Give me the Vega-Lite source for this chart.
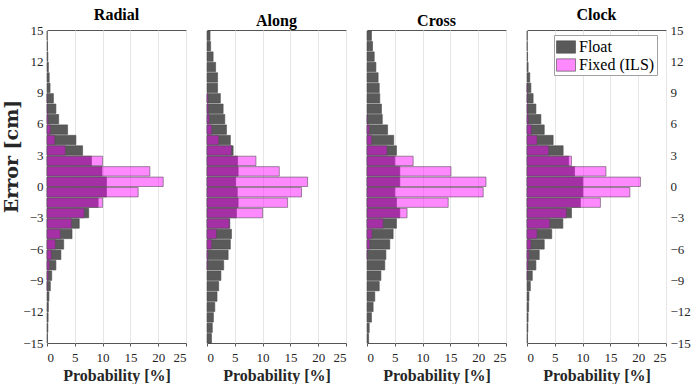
{
  "$schema": "https://vega.github.io/schema/vega-lite/v6.json",
  "padding": {"left": 2, "top": 6, "right": 0, "bottom": 0},
  "bounds": "flush",
  "spacing": 21,
  "datasets": {
    "hist": [
      {"p":"Radial","s":"Float","lo":14,"hi":15,"v":0.05},
      {"p":"Radial","s":"Float","lo":13,"hi":14,"v":0.1},
      {"p":"Radial","s":"Float","lo":12,"hi":13,"v":0.15},
      {"p":"Radial","s":"Float","lo":11,"hi":12,"v":0.25},
      {"p":"Radial","s":"Float","lo":10,"hi":11,"v":0.4},
      {"p":"Radial","s":"Float","lo":9,"hi":10,"v":0.55},
      {"p":"Radial","s":"Float","lo":8,"hi":9,"v":1.15},
      {"p":"Radial","s":"Float","lo":7,"hi":8,"v":1.6},
      {"p":"Radial","s":"Float","lo":6,"hi":7,"v":2.1},
      {"p":"Radial","s":"Float","lo":5,"hi":6,"v":3.7},
      {"p":"Radial","s":"Float","lo":4,"hi":5,"v":5.2},
      {"p":"Radial","s":"Float","lo":3,"hi":4,"v":6.4},
      {"p":"Radial","s":"Float","lo":2,"hi":3,"v":8.0},
      {"p":"Radial","s":"Float","lo":1,"hi":2,"v":9.9},
      {"p":"Radial","s":"Float","lo":0,"hi":1,"v":10.7},
      {"p":"Radial","s":"Float","lo":-1,"hi":0,"v":10.7},
      {"p":"Radial","s":"Float","lo":-2,"hi":-1,"v":9.2},
      {"p":"Radial","s":"Float","lo":-3,"hi":-2,"v":7.5},
      {"p":"Radial","s":"Float","lo":-4,"hi":-3,"v":5.8},
      {"p":"Radial","s":"Float","lo":-5,"hi":-4,"v":4.5},
      {"p":"Radial","s":"Float","lo":-6,"hi":-5,"v":3.0},
      {"p":"Radial","s":"Float","lo":-7,"hi":-6,"v":2.5},
      {"p":"Radial","s":"Float","lo":-8,"hi":-7,"v":1.6},
      {"p":"Radial","s":"Float","lo":-9,"hi":-8,"v":0.85},
      {"p":"Radial","s":"Float","lo":-10,"hi":-9,"v":0.6},
      {"p":"Radial","s":"Float","lo":-11,"hi":-10,"v":0.35},
      {"p":"Radial","s":"Float","lo":-12,"hi":-11,"v":0.25},
      {"p":"Radial","s":"Float","lo":-13,"hi":-12,"v":0.2},
      {"p":"Radial","s":"Float","lo":-14,"hi":-13,"v":0.15},
      {"p":"Radial","s":"Float","lo":-15,"hi":-14,"v":0.1},
      {"p":"Radial","s":"Fixed (ILS)","lo":8,"hi":9,"v":0.05},
      {"p":"Radial","s":"Fixed (ILS)","lo":7,"hi":8,"v":0.1},
      {"p":"Radial","s":"Fixed (ILS)","lo":6,"hi":7,"v":0.2},
      {"p":"Radial","s":"Fixed (ILS)","lo":5,"hi":6,"v":0.6},
      {"p":"Radial","s":"Fixed (ILS)","lo":4,"hi":5,"v":1.4},
      {"p":"Radial","s":"Fixed (ILS)","lo":3,"hi":4,"v":3.3},
      {"p":"Radial","s":"Fixed (ILS)","lo":2,"hi":3,"v":10.0},
      {"p":"Radial","s":"Fixed (ILS)","lo":1,"hi":2,"v":18.5},
      {"p":"Radial","s":"Fixed (ILS)","lo":0,"hi":1,"v":20.9},
      {"p":"Radial","s":"Fixed (ILS)","lo":-1,"hi":0,"v":16.4},
      {"p":"Radial","s":"Fixed (ILS)","lo":-2,"hi":-1,"v":10.0},
      {"p":"Radial","s":"Fixed (ILS)","lo":-3,"hi":-2,"v":6.7},
      {"p":"Radial","s":"Fixed (ILS)","lo":-4,"hi":-3,"v":4.4},
      {"p":"Radial","s":"Fixed (ILS)","lo":-5,"hi":-4,"v":2.4},
      {"p":"Radial","s":"Fixed (ILS)","lo":-6,"hi":-5,"v":1.5},
      {"p":"Radial","s":"Fixed (ILS)","lo":-7,"hi":-6,"v":0.8},
      {"p":"Radial","s":"Fixed (ILS)","lo":-8,"hi":-7,"v":0.4},
      {"p":"Radial","s":"Fixed (ILS)","lo":-9,"hi":-8,"v":0.25},
      {"p":"Radial","s":"Fixed (ILS)","lo":-10,"hi":-9,"v":0.1},

      {"p":"Along","s":"Float","lo":14,"hi":15,"v":0.55},
      {"p":"Along","s":"Float","lo":13,"hi":14,"v":0.65},
      {"p":"Along","s":"Float","lo":12,"hi":13,"v":1.1},
      {"p":"Along","s":"Float","lo":11,"hi":12,"v":1.55},
      {"p":"Along","s":"Float","lo":10,"hi":11,"v":1.9},
      {"p":"Along","s":"Float","lo":9,"hi":10,"v":1.9},
      {"p":"Along","s":"Float","lo":8,"hi":9,"v":2.4},
      {"p":"Along","s":"Float","lo":7,"hi":8,"v":2.9},
      {"p":"Along","s":"Float","lo":6,"hi":7,"v":3.2},
      {"p":"Along","s":"Float","lo":5,"hi":6,"v":3.5},
      {"p":"Along","s":"Float","lo":4,"hi":5,"v":4.2},
      {"p":"Along","s":"Float","lo":3,"hi":4,"v":4.7},
      {"p":"Along","s":"Float","lo":2,"hi":3,"v":5.5},
      {"p":"Along","s":"Float","lo":1,"hi":2,"v":5.6},
      {"p":"Along","s":"Float","lo":0,"hi":1,"v":5.15},
      {"p":"Along","s":"Float","lo":-1,"hi":0,"v":5.45},
      {"p":"Along","s":"Float","lo":-2,"hi":-1,"v":5.6},
      {"p":"Along","s":"Float","lo":-3,"hi":-2,"v":5.3},
      {"p":"Along","s":"Float","lo":-4,"hi":-3,"v":4.1},
      {"p":"Along","s":"Float","lo":-5,"hi":-4,"v":4.4},
      {"p":"Along","s":"Float","lo":-6,"hi":-5,"v":4.2},
      {"p":"Along","s":"Float","lo":-7,"hi":-6,"v":3.8},
      {"p":"Along","s":"Float","lo":-8,"hi":-7,"v":3.0},
      {"p":"Along","s":"Float","lo":-9,"hi":-8,"v":2.5},
      {"p":"Along","s":"Float","lo":-10,"hi":-9,"v":2.1},
      {"p":"Along","s":"Float","lo":-11,"hi":-10,"v":1.8},
      {"p":"Along","s":"Float","lo":-12,"hi":-11,"v":1.4},
      {"p":"Along","s":"Float","lo":-13,"hi":-12,"v":1.15},
      {"p":"Along","s":"Float","lo":-14,"hi":-13,"v":0.95},
      {"p":"Along","s":"Float","lo":-15,"hi":-14,"v":0.8},
      {"p":"Along","s":"Fixed (ILS)","lo":8,"hi":9,"v":0.2},
      {"p":"Along","s":"Fixed (ILS)","lo":7,"hi":8,"v":0.25},
      {"p":"Along","s":"Fixed (ILS)","lo":6,"hi":7,"v":0.4},
      {"p":"Along","s":"Fixed (ILS)","lo":5,"hi":6,"v":0.85},
      {"p":"Along","s":"Fixed (ILS)","lo":4,"hi":5,"v":2.1},
      {"p":"Along","s":"Fixed (ILS)","lo":3,"hi":4,"v":4.4},
      {"p":"Along","s":"Fixed (ILS)","lo":2,"hi":3,"v":8.8},
      {"p":"Along","s":"Fixed (ILS)","lo":1,"hi":2,"v":13.0},
      {"p":"Along","s":"Fixed (ILS)","lo":0,"hi":1,"v":18.1},
      {"p":"Along","s":"Fixed (ILS)","lo":-1,"hi":0,"v":17.0},
      {"p":"Along","s":"Fixed (ILS)","lo":-2,"hi":-1,"v":14.5},
      {"p":"Along","s":"Fixed (ILS)","lo":-3,"hi":-2,"v":10.0},
      {"p":"Along","s":"Fixed (ILS)","lo":-4,"hi":-3,"v":4.0},
      {"p":"Along","s":"Fixed (ILS)","lo":-5,"hi":-4,"v":1.7},
      {"p":"Along","s":"Fixed (ILS)","lo":-6,"hi":-5,"v":0.85},
      {"p":"Along","s":"Fixed (ILS)","lo":-7,"hi":-6,"v":0.2},
      {"p":"Along","s":"Fixed (ILS)","lo":-8,"hi":-7,"v":0.1},

      {"p":"Cross","s":"Float","lo":14,"hi":15,"v":0.8},
      {"p":"Cross","s":"Float","lo":13,"hi":14,"v":1.0},
      {"p":"Cross","s":"Float","lo":12,"hi":13,"v":1.3},
      {"p":"Cross","s":"Float","lo":11,"hi":12,"v":1.6},
      {"p":"Cross","s":"Float","lo":10,"hi":11,"v":2.0},
      {"p":"Cross","s":"Float","lo":9,"hi":10,"v":2.2},
      {"p":"Cross","s":"Float","lo":8,"hi":9,"v":2.3},
      {"p":"Cross","s":"Float","lo":7,"hi":8,"v":2.6},
      {"p":"Cross","s":"Float","lo":6,"hi":7,"v":2.75},
      {"p":"Cross","s":"Float","lo":5,"hi":6,"v":3.7},
      {"p":"Cross","s":"Float","lo":4,"hi":5,"v":4.8},
      {"p":"Cross","s":"Float","lo":3,"hi":4,"v":5.3},
      {"p":"Cross","s":"Float","lo":2,"hi":3,"v":5.0},
      {"p":"Cross","s":"Float","lo":1,"hi":2,"v":5.9},
      {"p":"Cross","s":"Float","lo":0,"hi":1,"v":5.9},
      {"p":"Cross","s":"Float","lo":-1,"hi":0,"v":5.0},
      {"p":"Cross","s":"Float","lo":-2,"hi":-1,"v":5.3},
      {"p":"Cross","s":"Float","lo":-3,"hi":-2,"v":5.9},
      {"p":"Cross","s":"Float","lo":-4,"hi":-3,"v":5.3},
      {"p":"Cross","s":"Float","lo":-5,"hi":-4,"v":4.7},
      {"p":"Cross","s":"Float","lo":-6,"hi":-5,"v":4.1},
      {"p":"Cross","s":"Float","lo":-7,"hi":-6,"v":3.4},
      {"p":"Cross","s":"Float","lo":-8,"hi":-7,"v":3.2},
      {"p":"Cross","s":"Float","lo":-9,"hi":-8,"v":2.5},
      {"p":"Cross","s":"Float","lo":-10,"hi":-9,"v":2.2},
      {"p":"Cross","s":"Float","lo":-11,"hi":-10,"v":1.4},
      {"p":"Cross","s":"Float","lo":-12,"hi":-11,"v":1.1},
      {"p":"Cross","s":"Float","lo":-13,"hi":-12,"v":0.8},
      {"p":"Cross","s":"Float","lo":-14,"hi":-13,"v":0.4},
      {"p":"Cross","s":"Float","lo":-15,"hi":-14,"v":0.3},
      {"p":"Cross","s":"Fixed (ILS)","lo":6,"hi":7,"v":0.1},
      {"p":"Cross","s":"Fixed (ILS)","lo":5,"hi":6,"v":0.4},
      {"p":"Cross","s":"Fixed (ILS)","lo":4,"hi":5,"v":0.85},
      {"p":"Cross","s":"Fixed (ILS)","lo":3,"hi":4,"v":3.6},
      {"p":"Cross","s":"Fixed (ILS)","lo":2,"hi":3,"v":8.3},
      {"p":"Cross","s":"Fixed (ILS)","lo":1,"hi":2,"v":15.1},
      {"p":"Cross","s":"Fixed (ILS)","lo":0,"hi":1,"v":21.4},
      {"p":"Cross","s":"Fixed (ILS)","lo":-1,"hi":0,"v":20.9},
      {"p":"Cross","s":"Fixed (ILS)","lo":-2,"hi":-1,"v":14.6},
      {"p":"Cross","s":"Fixed (ILS)","lo":-3,"hi":-2,"v":7.2},
      {"p":"Cross","s":"Fixed (ILS)","lo":-4,"hi":-3,"v":2.9},
      {"p":"Cross","s":"Fixed (ILS)","lo":-5,"hi":-4,"v":0.9},
      {"p":"Cross","s":"Fixed (ILS)","lo":-6,"hi":-5,"v":0.5},
      {"p":"Cross","s":"Fixed (ILS)","lo":-7,"hi":-6,"v":0.1},

      {"p":"Clock","s":"Float","lo":14,"hi":15,"v":0.05},
      {"p":"Clock","s":"Float","lo":13,"hi":14,"v":0.05},
      {"p":"Clock","s":"Float","lo":12,"hi":13,"v":0.1},
      {"p":"Clock","s":"Float","lo":11,"hi":12,"v":0.2},
      {"p":"Clock","s":"Float","lo":10,"hi":11,"v":0.5},
      {"p":"Clock","s":"Float","lo":9,"hi":10,"v":0.7},
      {"p":"Clock","s":"Float","lo":8,"hi":9,"v":1.1},
      {"p":"Clock","s":"Float","lo":7,"hi":8,"v":1.6},
      {"p":"Clock","s":"Float","lo":6,"hi":7,"v":2.5},
      {"p":"Clock","s":"Float","lo":5,"hi":6,"v":3.1},
      {"p":"Clock","s":"Float","lo":4,"hi":5,"v":4.7},
      {"p":"Clock","s":"Float","lo":3,"hi":4,"v":6.5},
      {"p":"Clock","s":"Float","lo":2,"hi":3,"v":7.5},
      {"p":"Clock","s":"Float","lo":1,"hi":2,"v":8.55},
      {"p":"Clock","s":"Float","lo":0,"hi":1,"v":10.05},
      {"p":"Clock","s":"Float","lo":-1,"hi":0,"v":10.05},
      {"p":"Clock","s":"Float","lo":-2,"hi":-1,"v":9.6},
      {"p":"Clock","s":"Float","lo":-3,"hi":-2,"v":8.0},
      {"p":"Clock","s":"Float","lo":-4,"hi":-3,"v":6.45},
      {"p":"Clock","s":"Float","lo":-5,"hi":-4,"v":4.45},
      {"p":"Clock","s":"Float","lo":-6,"hi":-5,"v":3.1},
      {"p":"Clock","s":"Float","lo":-7,"hi":-6,"v":2.2},
      {"p":"Clock","s":"Float","lo":-8,"hi":-7,"v":1.6},
      {"p":"Clock","s":"Float","lo":-9,"hi":-8,"v":0.95},
      {"p":"Clock","s":"Float","lo":-10,"hi":-9,"v":0.6},
      {"p":"Clock","s":"Float","lo":-11,"hi":-10,"v":0.35},
      {"p":"Clock","s":"Float","lo":-12,"hi":-11,"v":0.3},
      {"p":"Clock","s":"Float","lo":-13,"hi":-12,"v":0.2},
      {"p":"Clock","s":"Float","lo":-14,"hi":-13,"v":0.15},
      {"p":"Clock","s":"Float","lo":-15,"hi":-14,"v":0.1},
      {"p":"Clock","s":"Fixed (ILS)","lo":9,"hi":10,"v":0.05},
      {"p":"Clock","s":"Fixed (ILS)","lo":8,"hi":9,"v":0.1},
      {"p":"Clock","s":"Fixed (ILS)","lo":7,"hi":8,"v":0.15},
      {"p":"Clock","s":"Fixed (ILS)","lo":6,"hi":7,"v":0.25},
      {"p":"Clock","s":"Fixed (ILS)","lo":5,"hi":6,"v":0.8},
      {"p":"Clock","s":"Fixed (ILS)","lo":4,"hi":5,"v":1.8},
      {"p":"Clock","s":"Fixed (ILS)","lo":3,"hi":4,"v":3.9},
      {"p":"Clock","s":"Fixed (ILS)","lo":2,"hi":3,"v":8.0},
      {"p":"Clock","s":"Fixed (ILS)","lo":1,"hi":2,"v":14.2},
      {"p":"Clock","s":"Fixed (ILS)","lo":0,"hi":1,"v":20.4},
      {"p":"Clock","s":"Fixed (ILS)","lo":-1,"hi":0,"v":18.5},
      {"p":"Clock","s":"Fixed (ILS)","lo":-2,"hi":-1,"v":13.2},
      {"p":"Clock","s":"Fixed (ILS)","lo":-3,"hi":-2,"v":7.1},
      {"p":"Clock","s":"Fixed (ILS)","lo":-4,"hi":-3,"v":4.1},
      {"p":"Clock","s":"Fixed (ILS)","lo":-5,"hi":-4,"v":1.8},
      {"p":"Clock","s":"Fixed (ILS)","lo":-6,"hi":-5,"v":0.7},
      {"p":"Clock","s":"Fixed (ILS)","lo":-7,"hi":-6,"v":0.35},
      {"p":"Clock","s":"Fixed (ILS)","lo":-8,"hi":-7,"v":0.2},
      {"p":"Clock","s":"Fixed (ILS)","lo":-9,"hi":-8,"v":0.1}
    ]
  },
  "resolve": {"scale": {"color": "independent"}, "legend": {"color": "independent"}},
  "hconcat": [
    {
      "width": 139, "height": 313,
      "title": "Radial",
      "data": {"name": "hist"},
      "transform": [{"filter": "datum.p == 'Radial'"}],
      "encoding": {
        "x": {"field": "v", "type": "quantitative", "scale": {"domain": [0, 25], "nice": false}, "axis": {"values": [0, 5, 10, 15, 20, 25], "title": "Probability [%]"}},
        "y": {"field": "lo", "type": "quantitative", "bin": {"binned": true}, "scale": {"domain": [-15, 15], "nice": false}, "axis": {"values": [-15, -12, -9, -6, -3, 0, 3, 6, 9, 12, 15], "format": "d", "title": "Error [cm]", "titlePadding": 1, "titleY": 126, "ticks": false, "labelPadding": 4, "titleFont": "DejaVu Serif", "titleFontSize": 19}},
        "y2": {"field": "hi"},
        "color": {"field": "s", "type": "nominal", "scale": {"domain": ["Float", "Fixed (ILS)"], "range": ["#5a5a5a", "rgba(255,0,255,0.46)"]}, "legend": null}
      },
      "layer": [
        {"transform": [{"filter": "datum.s == 'Float'"}], "mark": {"type": "bar", "stroke": "#4a4a4a", "strokeWidth": 0.6}},
        {"transform": [{"filter": "datum.s == 'Fixed (ILS)'"}], "mark": {"type": "bar", "stroke": "#5a4a5a", "strokeWidth": 0.6}}
      ]
    },
    {
      "width": 139, "height": 313,
      "title": "Along",
      "data": {"name": "hist"},
      "transform": [{"filter": "datum.p == 'Along'"}],
      "encoding": {
        "x": {"field": "v", "type": "quantitative", "scale": {"domain": [0, 25], "nice": false}, "axis": {"values": [0, 5, 10, 15, 20, 25], "title": "Probability [%]"}},
        "y": {"field": "lo", "type": "quantitative", "bin": {"binned": true}, "scale": {"domain": [-15, 15], "nice": false}, "axis": {"values": [-15, -12, -9, -6, -3, 0, 3, 6, 9, 12, 15], "title": null, "labels": false, "ticks": false}},
        "y2": {"field": "hi"},
        "color": {"field": "s", "type": "nominal", "scale": {"domain": ["Float", "Fixed (ILS)"], "range": ["#5a5a5a", "rgba(255,0,255,0.46)"]}, "legend": null}
      },
      "layer": [
        {"transform": [{"filter": "datum.s == 'Float'"}], "mark": {"type": "bar", "stroke": "#4a4a4a", "strokeWidth": 0.6}},
        {"transform": [{"filter": "datum.s == 'Fixed (ILS)'"}], "mark": {"type": "bar", "stroke": "#5a4a5a", "strokeWidth": 0.6}}
      ]
    },
    {
      "width": 139, "height": 313,
      "title": "Cross",
      "data": {"name": "hist"},
      "transform": [{"filter": "datum.p == 'Cross'"}],
      "encoding": {
        "x": {"field": "v", "type": "quantitative", "scale": {"domain": [0, 25], "nice": false}, "axis": {"values": [0, 5, 10, 15, 20, 25], "title": "Probability [%]"}},
        "y": {"field": "lo", "type": "quantitative", "bin": {"binned": true}, "scale": {"domain": [-15, 15], "nice": false}, "axis": {"values": [-15, -12, -9, -6, -3, 0, 3, 6, 9, 12, 15], "title": null, "labels": false, "ticks": false}},
        "y2": {"field": "hi"},
        "color": {"field": "s", "type": "nominal", "scale": {"domain": ["Float", "Fixed (ILS)"], "range": ["#5a5a5a", "rgba(255,0,255,0.46)"]}, "legend": null}
      },
      "layer": [
        {"transform": [{"filter": "datum.s == 'Float'"}], "mark": {"type": "bar", "stroke": "#4a4a4a", "strokeWidth": 0.6}},
        {"transform": [{"filter": "datum.s == 'Fixed (ILS)'"}], "mark": {"type": "bar", "stroke": "#5a4a5a", "strokeWidth": 0.6}}
      ]
    },
    {
      "width": 139, "height": 313,
      "title": "Clock",
      "data": {"name": "hist"},
      "transform": [{"filter": "datum.p == 'Clock'"}],
      "encoding": {
        "x": {"field": "v", "type": "quantitative", "scale": {"domain": [0, 25], "nice": false}, "axis": {"values": [0, 5, 10, 15, 20, 25], "title": "Probability [%]"}},
        "y": {"field": "lo", "type": "quantitative", "bin": {"binned": true}, "scale": {"domain": [-15, 15], "nice": false}, "axis": {"orient": "right", "values": [-15, -12, -9, -6, -3, 0, 3, 6, 9, 12, 15], "format": "d", "title": null, "ticks": false, "labelPadding": 4}},
        "y2": {"field": "hi"},
        "color": {"field": "s", "type": "nominal", "scale": {"domain": ["Float", "Fixed (ILS)"], "range": ["#5a5a5a", "rgba(255,0,255,0.46)"]},
          "legend": {"orient": "none", "legendX": 27, "legendY": 5, "title": null, "symbolType": "M-1,-0.65H1V0.65H-1Z", "symbolSize": 361, "symbolStrokeColor": "#444", "symbolStrokeWidth": 0.6, "labelFont": "Liberation Serif", "labelFontSize": 16, "labelColor": "#000", "labelOffset": 3, "fillColor": "white", "strokeColor": "#a0a0a0", "padding": 2, "rowPadding": 0, "cornerRadius": 0}}
      },
      "layer": [
        {"transform": [{"filter": "datum.s == 'Float'"}], "mark": {"type": "bar", "stroke": "#4a4a4a", "strokeWidth": 0.6}},
        {"transform": [{"filter": "datum.s == 'Fixed (ILS)'"}], "mark": {"type": "bar", "stroke": "#5a4a5a", "strokeWidth": 0.6}}
      ]
    }
  ],
  "config": {
    "font": "Liberation Serif",
    "view": {"stroke": "#555555", "strokeWidth": 1},
    "axis": {"labelFont": "Liberation Serif", "labelFontSize": 13, "labelColor": "#262626", "labelPadding": 3, "titleFont": "Liberation Serif", "titleFontSize": 17, "titleFontWeight": "bold", "titleColor": "#262626", "titlePadding": 5, "gridColor": "#e6e6e6", "domain": false, "tickColor": "#555555", "tickSize": 3},
    "axisX": {"labelPadding": 5, "titlePadding": 3, "titleFontSize": 16},
    "title": {"font": "Liberation Serif", "fontSize": 16, "fontWeight": "bold", "color": "#000000", "offset": 1, "frame": "group"}
  }
}
